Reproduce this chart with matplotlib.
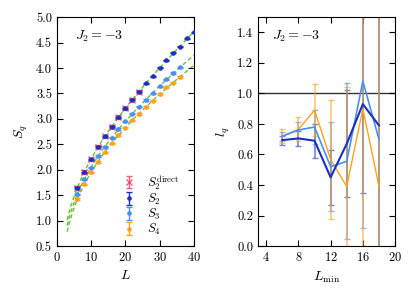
import numpy as np
import matplotlib
matplotlib.use("Agg")
import matplotlib.pyplot as plt

plt.rcParams["font.family"] = "serif"
plt.rcParams["font.serif"] = ["cmr10"]
plt.rcParams["mathtext.fontset"] = "cm"
plt.rcParams["axes.formatter.use_mathtext"] = True
plt.rcParams["font.size"] = 9

# left panel: entropies vs L
L_s2 = [6, 8, 10, 12, 14, 16, 18, 20, 22, 24, 26, 28, 30, 32, 34, 36, 38, 40]
S2 = [1.65, 1.955, 2.21, 2.45, 2.66, 2.845, 3.03, 3.21, 3.375, 3.53,
      3.70, 3.84, 4.0, 4.155, 4.30, 4.42, 4.58, 4.70]
S2_err = [0.01] * len(S2)

L_direct = [6, 8, 10, 12, 14, 16, 18, 20, 22, 24]
S2_direct = [1.65, 1.955, 2.21, 2.45, 2.66, 2.845, 3.03, 3.21, 3.375, 3.53]
S2_direct_err = [0.03] * len(S2_direct)

L_s34 = [6, 8, 10, 12, 14, 16, 18, 20, 22, 24, 26, 28, 30, 32, 34, 36]
S3 = [1.52, 1.81, 2.04, 2.27, 2.45, 2.63, 2.80, 2.95, 3.10, 3.24,
      3.37, 3.50, 3.64, 3.78, 3.90, 4.01]
S3_err = [0.012] * len(S3)
S4 = [1.42, 1.71, 1.95, 2.15, 2.34, 2.52, 2.68, 2.83, 2.97, 3.10,
      3.23, 3.36, 3.49, 3.62, 3.71, 3.82]
S4_err = [0.015] * len(S4)

# right panel: log coefficient vs L_min
L_min = [6, 8, 10, 12, 14, 16, 18]
l2 = [0.694, 0.705, 0.69, 0.45, 0.67, 0.93, 0.79]
l2_err = [0.03, 0.05, 0.11, 0.18, 0.35, 0.58, 1.0]
l3 = [0.72, 0.76, 0.78, 0.52, 0.555, 1.08, 0.70]
l3_err = [0.03, 0.05, 0.11, 0.29, 0.51, 0.96, 1.2]
l4 = [0.72, 0.765, 0.89, 0.567, 0.39, 0.90, 0.39]
l4_err = [0.045, 0.08, 0.17, 0.39, 0.65, 1.0, 1.5]

c_red = "#ee3a5f"
c_dark = "#1a30c0"
c_light = "#4a8ff5"
c_orange = "#ffa21c"
c_green = "#66c23a"

fig = plt.figure(figsize=(4.15, 2.95), dpi=100)
ax1 = fig.add_axes([0.137, 0.166, 0.330, 0.776])
ax2 = fig.add_axes([0.622, 0.166, 0.330, 0.776])

# fits S = a L + l log L + c, drawn from L=3
L_fit = np.linspace(3, 40, 200)
for Ls, Ss in [(L_s2, S2), (L_s34, S3), (L_s34, S4)]:
    Ls = np.array(Ls, dtype=float)
    A = np.vstack([Ls, np.log(Ls), np.ones_like(Ls)]).T
    coef = np.linalg.lstsq(A, np.array(Ss), rcond=None)[0]
    yf = coef[0] * L_fit + coef[1] * np.log(L_fit) + coef[2]
    ax1.plot(L_fit, yf, "--", color=c_green, lw=1.0, dashes=(3, 2), zorder=1)

ax1.errorbar(L_direct, S2_direct, yerr=S2_direct_err, fmt="x", color=c_red,
             ms=4, mew=1.0, capsize=2.5, elinewidth=1, alpha=0.8,
             label=r"$S_2^{\rm direct}$", zorder=3)
ax1.errorbar(L_s2, S2, yerr=S2_err, fmt="o", color=c_dark, ms=2.3,
             capsize=2, elinewidth=1, label=r"$S_2$", zorder=4)
ax1.errorbar(L_s34, S3, yerr=S3_err, fmt="o", color=c_light, ms=2.3,
             capsize=2, elinewidth=1, label=r"$S_3$", zorder=4)
ax1.errorbar(L_s34, S4, yerr=S4_err, fmt="o", color=c_orange, ms=2.3,
             capsize=2, elinewidth=1, label=r"$S_4$", zorder=4)

ax1.set_xlim(0, 40)
ax1.set_ylim(0.5, 5.0)
ax1.set_xticks([0, 10, 20, 30, 40])
ax1.set_yticks(np.arange(0.5, 5.01, 0.5))
ax1.set_yticklabels([f"{v:.1f}" for v in np.arange(0.5, 5.01, 0.5)])
ax1.set_xlabel(r"$L$", fontsize=10)
ax1.set_ylabel(r"$S_q$", fontsize=10)
ax1.text(0.13, 0.9, r"$J_2 = -3$", transform=ax1.transAxes, fontsize=10)
ax1.legend(loc="lower left", bbox_to_anchor=(0.39, -0.01), frameon=False,
           fontsize=9, handlelength=1.2, handletextpad=0.8, labelspacing=0.0)

# right panel: error bars first (orange over blues), then lines on top
for vals, errs, col in [(l2, l2_err, c_dark), (l3, l3_err, c_light),
                        (l4, l4_err, c_orange)]:
    ax2.errorbar(L_min, vals, yerr=errs, fmt="none", ecolor=col, capsize=2,
                 elinewidth=1.2, alpha=0.6, zorder=2)
ax2.axhline(1.0, color="#333333", lw=1.0, zorder=1)
ax2.plot(L_min, l4, color=c_orange, lw=1.0, zorder=3)
ax2.plot(L_min, l3, color=c_light, lw=1.2, zorder=4)
ax2.plot(L_min, l2, color=c_dark, lw=1.5, zorder=5)

ax2.set_xlim(3, 20)
ax2.set_ylim(0, 1.5)
ax2.set_xticks([4, 8, 12, 16, 20])
ax2.set_yticks(np.arange(0, 1.41, 0.2))
ax2.set_yticklabels([f"{v:.1f}" for v in np.arange(0, 1.41, 0.2)])
ax2.set_xlabel(r"$L_{\min}$", fontsize=10)
ax2.set_ylabel(r"$l_q$", fontsize=10)
ax2.text(0.1, 0.9, r"$J_2 = -3$", transform=ax2.transAxes, fontsize=10)

for ax in (ax1, ax2):
    ax.tick_params(direction="in", top=True, right=True, length=4, width=0.8)

fig.savefig("out.png", dpi=100)
